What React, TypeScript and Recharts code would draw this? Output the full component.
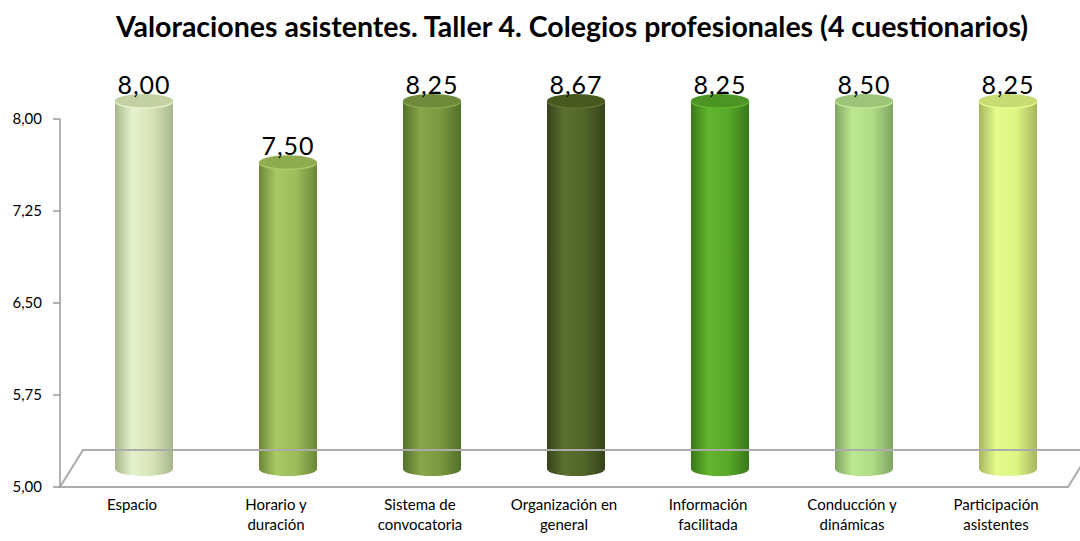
import React from "react";
import { BarChart, Bar, XAxis, YAxis, ReferenceLine, LabelList } from "recharts";

const categories = [
    "Espacio",
    "Horario y\nduración",
    "Sistema de\nconvocatoria",
    "Organización en\ngeneral",
    "Información\nfacilitada",
    "Conducción y\ndinámicas",
    "Participación\nasistentes",
];
const valoraciones = [8.0, 7.5, 8.25, 8.67, 8.25, 8.5, 8.25];
const yTicks = [5, 5.75, 6.5, 7.25, 8];
const yMin = 5;
const yMax = 8;

// base, light, dark, top cap
const barColors = [
    ["#d5e2b5", "#e6f2cd", "#a8b78b", "#c3d0a2"],
    ["#9bbb59", "#a9c965", "#6b8737", "#8eab50"],
    ["#7a983f", "#87a64a", "#53702a", "#6f8a3a"],
    ["#506428", "#5c7130", "#34431a", "#47591f"],
    ["#57a829", "#62b52e", "#39781a", "#4c9424"],
    ["#afdc86", "#bce890", "#7fa463", "#9cc57a"],
    ["#dcf582", "#e4fb8c", "#a6b55e", "#c6dc72"],
];

const DX = 12;
const DY = -18;
const FONT = "Lato, 'Open Sans', sans-serif";

const data = categories.map((name, i) => ({ name, value: valoraciones[i] }));
const fmt = (v: number) => v.toFixed(2).replace(".", ",");

const Cylinder = (props: any) => {
    const { x, y, width, height, index } = props;
    const c = barColors[index % barColors.length];
    const left = x + DX;
    const right = x + width + DX;
    const cx = (left + right) / 2;
    const rx = width / 2;
    const ry = 7;
    const top = y + DY;
    const bottom = y + height + DY;
    const gid = `cyl-${index}`;
    return (
        <g>
            <defs>
                <linearGradient id={gid} x1="0" y1="0" x2="1" y2="0">
                    <stop offset="0%" stopColor={c[2]} />
                    <stop offset="30%" stopColor={c[1]} />
                    <stop offset="65%" stopColor={c[0]} />
                    <stop offset="100%" stopColor={c[2]} />
                </linearGradient>
            </defs>
            <path
                d={`M${left},${top} L${left},${bottom} A${rx},${ry} 0 0 0 ${right},${bottom} L${right},${top} Z`}
                fill={`url(#${gid})`}
            />
            <ellipse cx={cx} cy={top} rx={rx} ry={ry} fill={c[3]} />
            <path
                d={`M${left + 1},${top + 1} A${rx - 1},${ry - 1} 0 0 0 ${right - 1},${top + 1}`}
                fill="none"
                stroke={c[1]}
                strokeWidth={1.5}
            />
        </g>
    );
};

const Floor = (props: any) => {
    const { x1, y1, x2 } = props;
    const depthX = 23;
    const depthY = -37;
    const pts = [
        [x1, y1],
        [x2, y1],
        [x2 + depthX, y1 + depthY],
        [x1 + depthX, y1 + depthY],
    ];
    return (
        <polygon
            points={pts.map((p) => p.join(",")).join(" ")}
            fill="none"
            stroke="#ababab"
            strokeWidth={2}
        />
    );
};

const CategoryTick = (props: any) => {
    const { x, y, payload } = props;
    const lines = String(payload.value).split("\n");
    return (
        <text x={x} y={y + 15} textAnchor="middle" fontFamily={FONT} fontSize={15} fill="#000">
            {lines.map((l, i) => (
                <tspan key={i} x={x} dy={i === 0 ? 0 : 20}>
                    {l}
                </tspan>
            ))}
        </text>
    );
};

const ValueLabel = (props: any) => {
    const { x, y, width, value } = props;
    return (
        <text
            x={x + width / 2 + DX}
            y={y + DY - 7}
            textAnchor="middle"
            fontFamily={FONT}
            fontSize={25}
            letterSpacing={1}
            fill="#000"
        >
            {fmt(value)}
        </text>
    );
};

export default function App() {
    return (
        <div style={{ position: "absolute", left: 0, top: 0, width: 1080, height: 541, background: "#fff" }}>
            <div
                style={{
                    position: "absolute",
                    left: 0,
                    top: 9,
                    width: 1144,
                    textAlign: "center",
                    fontFamily: FONT,
                    fontWeight: 700,
                    fontSize: 28.5,
                    lineHeight: "34px",
                    color: "#000",
                }}
            >
                Valoraciones asistentes. Taller 4. Colegios profesionales (4 cuestionarios)
            </div>
            <BarChart
                width={1080}
                height={541}
                data={data}
                margin={{ top: 119, right: 12, left: 0, bottom: 6 }}
                barCategoryGap={0}
            >
                <ReferenceLine y={yMin} shape={Floor} />
                <XAxis dataKey="name" axisLine={false} tickLine={false} height={48} tick={CategoryTick} interval={0} />
                <YAxis
                    width={60}
                    domain={[yMin, yMax]}
                    ticks={yTicks}
                    interval={0}
                    tickFormatter={fmt}
                    stroke="#9a9a9a"
                    strokeWidth={1.5}
                    tickSize={7}
                    tickMargin={11}
                    tick={{ fill: "#000", fontSize: 15, fontFamily: FONT }}
                />
                <Bar
                    dataKey={(d: any) => Math.min(d.value, yMax)}
                    barSize={58}
                    shape={Cylinder}
                    isAnimationActive={false}
                >
                    <LabelList dataKey="value" content={ValueLabel} />
                </Bar>
            </BarChart>
        </div>
    );
}
